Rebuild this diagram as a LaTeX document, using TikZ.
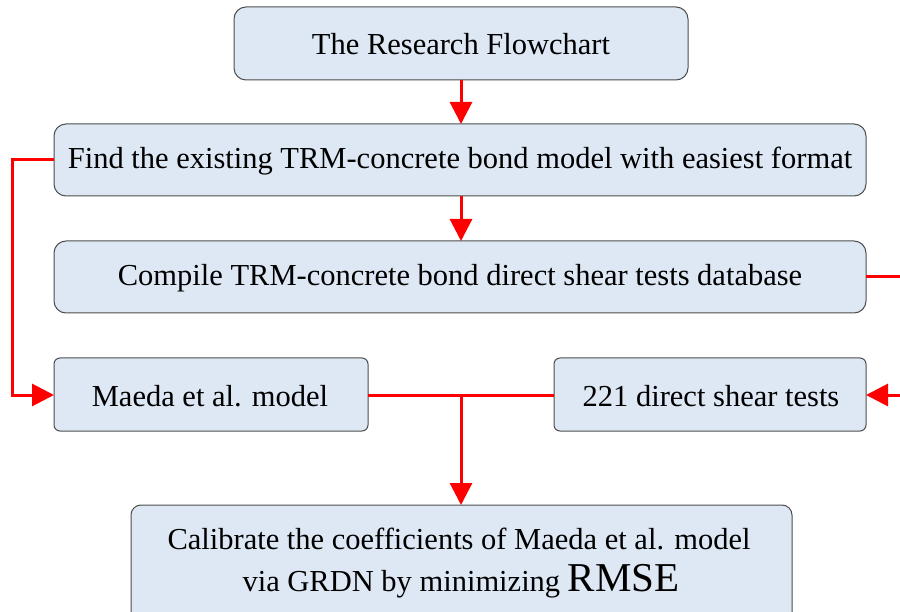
\documentclass[tikz,border=0pt]{standalone}
\usepackage{fontspec}
\setmainfont{Liberation Serif}
\usetikzlibrary{arrows.meta}
\definecolor{boxfill}{HTML}{DDE8F4}
\definecolor{boxdraw}{HTML}{4D4D4D}
\tikzset{
  flowbox/.style={draw=boxdraw, fill=boxfill, line width=1pt, rounded corners=#1},
  flowbox/.default=12pt,
  flowtext/.style={font=\fontsize{30.5}{36}\selectfont, inner sep=0pt},
  conn/.style={draw=red, line width=3pt},
  arr/.style={conn, -{Triangle[width=22pt,length=22pt]}}
}
\begin{document}
\begin{tikzpicture}[x=1pt,y=-1pt]
\useasboundingbox (0,0) rectangle (900,612);
% boxes
\draw[flowbox] (234,7) rectangle (688,80);
\node[flowtext] (title) at (461,44) {The Research Flowchart};
\coordinate (titleS) at (461,80);
\draw[flowbox] (54,124) rectangle (866,196);
\node[flowtext] (find) at (460,161) {Find the existing TRM-concrete bond model with easiest format};
\coordinate (findN) at (461,124);
\coordinate (findS) at (461,196);
\coordinate (findW) at (54,160);
\draw[flowbox] (54,241) rectangle (866,313);
\node[flowtext] (comp) at (460,278) {Compile TRM-concrete bond direct shear tests database};
\coordinate (compN) at (461,241);
\coordinate (compE) at (866,277);
\draw[flowbox=6pt] (54,358) rectangle (368,431);
\node[flowtext] (maeda) at (210,396) {Maeda et al. model};
\coordinate (maedaW) at (54,395);
\coordinate (maedaE) at (368,395);
\draw[flowbox=6pt] (554,358) rectangle (866,431);
\node[flowtext] (tests) at (711,396) {221 direct shear tests};
\coordinate (testsW) at (554,395);
\coordinate (testsE) at (866,395);
\draw[flowbox=10pt] (131,505) rectangle (792,640);
\node[flowtext, anchor=base] (cal1) at (459,549) {Calibrate the coefficients of Maeda et al. model};
\node[flowtext, anchor=base] (cal2) at (461,591) {via GRDN by minimizing {\fontsize{41}{46}\selectfont RMSE}};
\coordinate (calN) at (461,505);
% connectors
\draw[arr] (titleS) -- (findN);
\draw[arr] (findS) -- (compN);
\draw[arr] (findW) -- ++(-42,0) |- (maedaW);
\draw[arr] (compE) -- ++(50,0) |- (testsE);
\draw[conn] (maedaE) -- (testsW);
\coordinate (junc) at (461,395);
\draw[arr] (junc) -- (calN);
\end{tikzpicture}
\end{document}
